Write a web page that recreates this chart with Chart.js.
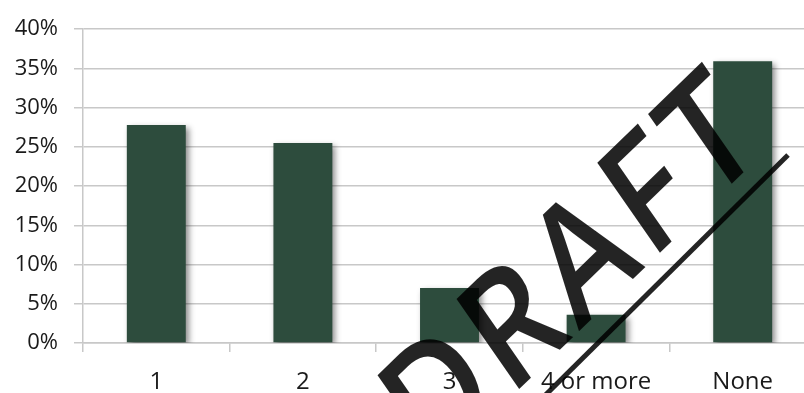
<!DOCTYPE html>
<html>
<head>
<meta charset="utf-8">
<script src="https://cdn.jsdelivr.net/npm/chart.js@4/dist/chart.umd.min.js"></script>
<style>
  html, body { margin: 0; padding: 0; background: #ffffff; }
  #frame { width: 804px; height: 393px; overflow: hidden; position: relative; }
  #box { width: 830px; height: 393px; position: absolute; left: 0; top: 0; }
</style>
</head>
<body>
<div id="frame"><div id="box"><canvas id="chart"></canvas></div></div>
<script>
// Number of children per household (share of respondents, %)
const categories = ['1', '2', '3', '4 or more', 'None'];
const shares = [27.8, 25.5, 7.0, 3.6, 35.9];
const yTicks = [0, 5, 10, 15, 20, 25, 30, 35, 40];

const BAR_COLOR = '#2D4C3D';
const GRID_COLOR = '#c8c8c8';
const TEXT_COLOR = '#1a1a1a';
const INK = 'rgba(0,0,0,0.86)';

// Soft drop shadow behind the bars
const barShadow = {
  id: 'barShadow',
  beforeDatasetsDraw(chart) {
    const ctx = chart.ctx;
    ctx.save();
    ctx.shadowColor = 'rgba(0,0,0,0.45)';
    ctx.shadowBlur = 6;
    ctx.shadowOffsetX = 3;
    ctx.shadowOffsetY = 3;
  },
  afterDatasetsDraw(chart) {
    chart.ctx.restore();
  }
};

// "DRAFT" stamp laid over the finished chart (slanted, sheared lettering)
const draftStamp = {
  id: 'draftStamp',
  afterDraw(chart) {
    const ctx = chart.ctx;
    ctx.save();
    // baseline runs up to the right; glyph verticals lean a little less
    ctx.transform(0.719, -0.695, 0.627, 0.902, 601, 310);
    ctx.font = '650 140px "Open Sans"';
    if ('letterSpacing' in ctx) ctx.letterSpacing = '7px';
    ctx.textAlign = 'center';
    ctx.textBaseline = 'alphabetic';
    ctx.fillStyle = INK;
    ctx.fillText('DRAFT', 0, 0);
    ctx.restore();

    // underline stroke
    ctx.save();
    ctx.strokeStyle = INK;
    ctx.lineWidth = 5;
    ctx.beginPath();
    ctx.moveTo(500, 440);
    ctx.lineTo(788, 155);
    ctx.stroke();
    ctx.restore();
  }
};

new Chart(document.getElementById('chart'), {
  type: 'bar',
  data: {
    labels: categories,
    datasets: [{
      data: shares,
      backgroundColor: BAR_COLOR,
      borderWidth: 0,
      barPercentage: 0.402,
      categoryPercentage: 1.0
    }]
  },
  options: {
    responsive: true,
    maintainAspectRatio: false,
    animation: false,
    layout: { padding: { left: 0, top: 22, right: 14, bottom: 0 } },
    plugins: {
      legend: { display: false },
      tooltip: { enabled: false }
    },
    scales: {
      x: {
        offset: true,
        grid: {
          offset: true,
          drawOnChartArea: false,
          drawTicks: true,
          tickLength: 9,
          color: GRID_COLOR,
          lineWidth: 1.5
        },
        border: { display: true, color: GRID_COLOR, width: 1.5 },
        ticks: {
          color: TEXT_COLOR,
          font: { family: '"Open Sans"', size: 24 },
          padding: 16,
          maxRotation: 0,
          autoSkip: false
        },
        afterFit(scale) { scale.height = 50; }
      },
      y: {
        min: 0,
        max: 40,
        afterBuildTicks(scale) {
          scale.ticks = yTicks.map(v => ({ value: v }));
        },
        grid: {
          color: GRID_COLOR,
          lineWidth: 1.5,
          drawTicks: true,
          tickLength: 9
        },
        border: { display: true, color: GRID_COLOR, width: 1.5 },
        ticks: {
          color: TEXT_COLOR,
          font: { family: '"Open Sans"', size: 22 },
          padding: 16,
          callback: v => v + '%'
        },
        afterFit(scale) { scale.width = 83; }
      }
    }
  },
  plugins: [barShadow, draftStamp]
});
</script>
</body>
</html>
